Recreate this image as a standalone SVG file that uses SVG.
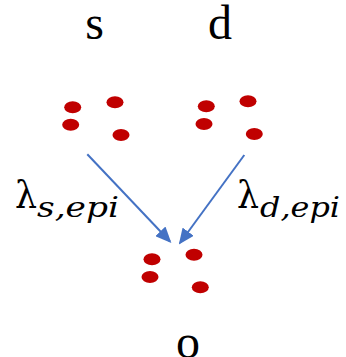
<svg xmlns="http://www.w3.org/2000/svg" width="346" height="357" viewBox="0 0 346 357">
<style>
.dot{fill:#C00000}
.lbl{font-family:"Liberation Serif","Times New Roman",serif;font-size:48px;fill:#000;text-anchor:middle}
.lam{font-family:"DejaVu Serif",serif;font-size:38px;fill:#000}
.sub{font-family:"DejaVu Serif",serif;font-style:italic;font-size:27px;fill:#000}
.edge{stroke:#4472C4;stroke-width:2;fill:none;marker-end:url(#ah)}
</style>
<defs>
<marker id="ah" markerWidth="8" markerHeight="7" refX="7" refY="3.5" orient="auto" markerUnits="strokeWidth">
<path d="M0,0 L8,3.5 L0,7 Z" fill="#4472C4"/>
</marker>
</defs>
<rect width="346" height="357" fill="#fff"/>
<g id="s">
<text class="lbl" x="94.5" y="38.5">s</text>
<ellipse class="dot" cx="72.7" cy="107.3" rx="8.5" ry="6"/>
<ellipse class="dot" cx="115" cy="102.3" rx="8.5" ry="6"/>
<ellipse class="dot" cx="70.7" cy="124.7" rx="8.5" ry="6"/>
<ellipse class="dot" cx="121" cy="135" rx="8.5" ry="6"/>
</g>
<g id="d">
<text class="lbl" x="220" y="38.5">d</text>
<ellipse class="dot" cx="206.3" cy="106.3" rx="8.5" ry="6"/>
<ellipse class="dot" cx="248" cy="101.3" rx="8.5" ry="6"/>
<ellipse class="dot" cx="204" cy="124" rx="8.5" ry="6"/>
<ellipse class="dot" cx="254.3" cy="134" rx="8.5" ry="6"/>
</g>
<g id="o">
<text class="lbl" x="188" y="358">o</text>
<ellipse class="dot" cx="152" cy="259.3" rx="8.5" ry="6"/>
<ellipse class="dot" cx="194" cy="254.7" rx="8.5" ry="6"/>
<ellipse class="dot" cx="150" cy="277" rx="8.5" ry="6"/>
<ellipse class="dot" cx="200.3" cy="287.3" rx="8.5" ry="6"/>
</g>
<g id="connectors">
<line class="edge" x1="87.3" y1="154.3" x2="170" y2="241.5"/>
<line class="edge" x1="244.3" y1="155" x2="180" y2="243"/>
<text class="lam" x="15" y="208" textLength="22" lengthAdjust="spacingAndGlyphs">λ</text>
<text class="sub" x="37" y="217" textLength="82" lengthAdjust="spacingAndGlyphs">s,epi</text>
<text class="lam" x="237" y="208" textLength="22" lengthAdjust="spacingAndGlyphs">λ</text>
<text class="sub" x="260" y="217" textLength="80" lengthAdjust="spacingAndGlyphs">d,epi</text>
</g>
</svg>
